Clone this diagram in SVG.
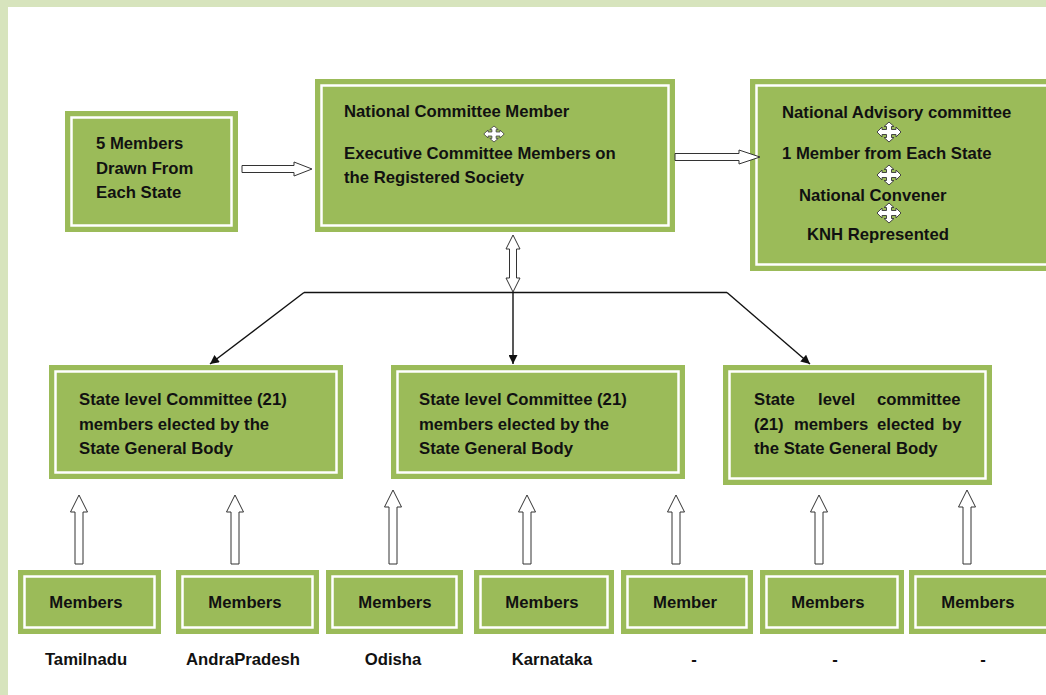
<svg xmlns="http://www.w3.org/2000/svg" width="1046" height="695" viewBox="0 0 1046 695">
<style>
.box{fill:#9bbb59}
.inner{fill:none;stroke:#ffffff;stroke-width:2.5}
.t{font-family:"Liberation Sans",Arial,sans-serif;font-weight:bold;font-size:16.7px;fill:#111111}
.m{text-anchor:middle}
.blk{fill:#ffffff;stroke:#333333;stroke-width:1}
.con{fill:none;stroke:#111111;stroke-width:1.4}
.cross{fill:#ffffff;stroke:#444444;stroke-width:1}
</style>
<defs>
<marker id="ah" viewBox="0 0 10 10" refX="10" refY="5" markerWidth="10" markerHeight="9" markerUnits="userSpaceOnUse" orient="auto">
<path d="M0,0 L10,5 L0,10 Z" fill="#111111"/>
</marker>
<path id="x4" d="M0,-10 L5,-5.5 L2.5,-5.5 L2.5,-2.5 L7,-2.5 L7,-5 L12,0 L7,5 L7,2.5 L2.5,2.5 L2.5,5.5 L5,5.5 L0,10 L-5,5.5 L-2.5,5.5 L-2.5,2.5 L-7,2.5 L-7,5 L-12,0 L-7,-5 L-7,-2.5 L-2.5,-2.5 L-2.5,-5.5 L-5,-5.5 Z"/>
</defs>
<rect x="0" y="0" width="1046" height="695" fill="#d7e4bd"/>
<rect x="8" y="7" width="1050" height="700" fill="#ffffff"/>

<g id="n-five">
<rect class="box" x="65" y="111" width="173" height="121"/>
<rect class="inner" x="71.5" y="117.5" width="160" height="108"/>
<text class="t" x="96" y="149">5 Members</text>
<text class="t" x="96" y="174">Drawn From</text>
<text class="t" x="96" y="198">Each State</text>
</g>

<g id="n-national">
<rect class="box" x="315" y="79" width="360" height="153"/>
<rect class="inner" x="321.5" y="85.5" width="347" height="140"/>
<text class="t" x="344" y="117">National Committee Member</text>
<use href="#x4" class="cross" transform="translate(494,134) scale(0.85,0.8)"/>
<text class="t" x="344" y="159">Executive Committee Members on</text>
<text class="t" x="344" y="183">the Registered Society</text>
</g>

<g id="n-advisory">
<rect class="box" x="750" y="79" width="310" height="192"/>
<rect class="inner" x="756.5" y="85.5" width="300" height="179"/>
<text class="t" x="782" y="118">National Advisory committee</text>
<use href="#x4" class="cross" transform="translate(889,132)"/>
<text class="t" x="782" y="159">1 Member from Each State</text>
<use href="#x4" class="cross" transform="translate(889,175)"/>
<text class="t" x="799" y="201">National Convener</text>
<use href="#x4" class="cross" transform="translate(889,213)"/>
<text class="t" x="807" y="240">KNH Represented</text>
</g>

<g id="n-state1">
<rect class="box" x="49" y="365" width="294" height="114"/>
<rect class="inner" x="55.5" y="371.5" width="281" height="101"/>
<text class="t" x="79" y="405">State level Committee (21)</text>
<text class="t" x="79" y="430">members elected  by the</text>
<text class="t" x="79" y="454">State General Body</text>
</g>

<g id="n-state2">
<rect class="box" x="391" y="365" width="294" height="114"/>
<rect class="inner" x="397.5" y="371.5" width="281" height="101"/>
<text class="t" x="419" y="405">State level Committee (21)</text>
<text class="t" x="419" y="430">members elected  by the</text>
<text class="t" x="419" y="454">State General Body</text>
</g>

<g id="n-state3">
<rect class="box" x="723" y="365" width="269" height="120"/>
<rect class="inner" x="729.5" y="371.5" width="256" height="107"/>
<text class="t" y="405"><tspan x="754">State</tspan> <tspan x="818">level</tspan> <tspan x="877">committee</tspan></text>
<text class="t" y="430"><tspan x="754">(21)</tspan> <tspan x="794">members</tspan> <tspan x="877">elected</tspan> <tspan x="942">by</tspan></text>
<text class="t" x="754" y="454">the State General Body</text>
</g>

<g id="n-m1">
<rect class="box" x="18" y="570" width="143" height="64"/>
<rect class="inner" x="24.5" y="576.5" width="130" height="51"/>
<text class="t m" x="86" y="608">Members</text>
</g>
<g id="n-m2">
<rect class="box" x="176" y="570" width="143" height="64"/>
<rect class="inner" x="182.5" y="576.5" width="130" height="51"/>
<text class="t m" x="245" y="608">Members</text>
</g>
<g id="n-m3">
<rect class="box" x="326" y="570" width="137" height="64"/>
<rect class="inner" x="332.5" y="576.5" width="124" height="51"/>
<text class="t m" x="395" y="608">Members</text>
</g>
<g id="n-m4">
<rect class="box" x="474" y="570" width="140" height="64"/>
<rect class="inner" x="480.5" y="576.5" width="127" height="51"/>
<text class="t m" x="542" y="608">Members</text>
</g>
<g id="n-m5">
<rect class="box" x="621" y="570" width="132" height="64"/>
<rect class="inner" x="627.5" y="576.5" width="119" height="51"/>
<text class="t m" x="685" y="608">Member</text>
</g>
<g id="n-m6">
<rect class="box" x="760" y="570" width="144" height="64"/>
<rect class="inner" x="766.5" y="576.5" width="131" height="51"/>
<text class="t m" x="828" y="608">Members</text>
</g>
<g id="n-m7">
<rect class="box" x="909" y="570" width="150" height="64"/>
<rect class="inner" x="915.5" y="576.5" width="137" height="51"/>
<text class="t m" x="978" y="608">Members</text>
</g>

<g id="labels">
<text class="t m" x="86" y="665">Tamilnadu</text>
<text class="t m" x="243" y="665">AndraPradesh</text>
<text class="t m" x="393" y="665">Odisha</text>
<text class="t m" x="552" y="665">Karnataka</text>
<text class="t m" x="694" y="665">-</text>
<text class="t m" x="835" y="665">-</text>
<text class="t m" x="983" y="665">-</text>
</g>

<g id="connectors">
<polygon class="blk" points="242,165.5 294,165.5 294,162 312,169 294,176 294,172.5 242,172.5"/>
<polygon class="blk" points="675,153.5 739,153.5 739,150 760,157 739,164 739,160.5 675,160.5"/>
<polygon class="blk" points="513,235 520,249 516.5,249 516.5,278 520,278 513,292 506,278 509.5,278 509.5,249 506,249"/>
<path class="con" d="M304,292.5 L727,292.5"/>
<path class="con" d="M304,292.5 L210,364" marker-end="url(#ah)"/>
<path class="con" d="M513,292.5 L513,364" marker-end="url(#ah)"/>
<path class="con" d="M727,292.5 L810,364" marker-end="url(#ah)"/>
<polygon class="blk" points="79,495 87.5,512 83,512 83,564 75,564 75,512 70.5,512"/>
<polygon class="blk" points="235,495 243.5,512 239,512 239,564 231,564 231,512 226.5,512"/>
<polygon class="blk" points="393,490 401.5,507 397,507 397,564 389,564 389,507 384.5,507"/>
<polygon class="blk" points="527,495 535.5,512 531,512 531,564 523,564 523,512 518.5,512"/>
<polygon class="blk" points="676,495 684.5,512 680,512 680,564 672,564 672,512 667.5,512"/>
<polygon class="blk" points="819,495 827.5,512 823,512 823,564 815,564 815,512 810.5,512"/>
<polygon class="blk" points="967,490 975.5,507 971,507 971,564 963,564 963,507 958.5,507"/>
</g>
</svg>
